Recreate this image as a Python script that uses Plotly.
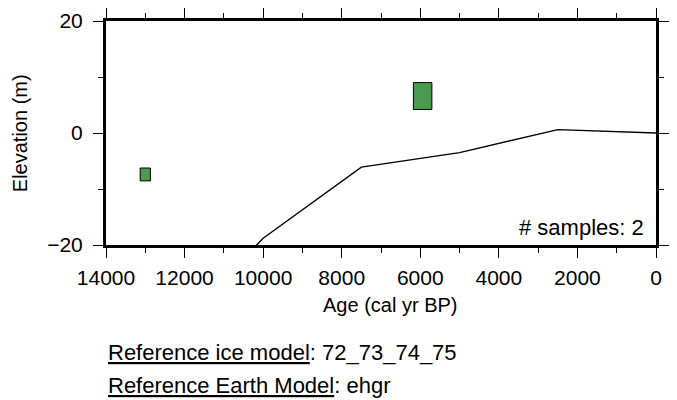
import plotly.graph_objects as go

# sea-level model curve
model_age = [11000, 10000, 7500, 5000, 2500, 0]
model_elev = [-26.0, -18.8, -6.1, -3.5, 0.6, 0.0]

# sample boxes (centre +/- half size)
sample_age = [13000, 5940]
sample_age_err = [130, 235]
sample_elev = [-7.4, 6.6]
sample_elev_err = [1.15, 2.4]

FONT = "Liberation Sans, Arial, Helvetica, sans-serif"

fig = go.Figure()

fig.add_trace(go.Scatter(
    x=model_age, y=model_elev, mode="lines",
    line=dict(color="black", width=1.4),
    showlegend=False, hoverinfo="skip",
))

# build rectangles for the samples
for a, da, e, de in zip(sample_age, sample_age_err, sample_elev, sample_elev_err):
    fig.add_trace(go.Scatter(
        x=[a - da, a + da, a + da, a - da, a - da],
        y=[e - de, e - de, e + de, e + de, e - de],
        mode="lines", fill="toself",
        fillcolor="#4b9a50",
        line=dict(color="black", width=1),
        showlegend=False,
    ))

axis_common = dict(
    showline=True, linewidth=3, linecolor="black",
    mirror="ticks", ticks="outside", ticklen=10, tickwidth=1, tickcolor="black",
    showgrid=False, zeroline=False, automargin=False,
    tickfont=dict(family=FONT, size=21, color="black"),
)

fig.update_xaxes(
    range=[14000, 0], tick0=0, dtick=2000, tickformat="d",
    minor=dict(dtick=1000, ticks="outside", ticklen=5, tickwidth=1, tickcolor="black"),
    ticklabelstandoff=2,
    **axis_common,
)
fig.update_yaxes(
    range=[-20, 20], tick0=0, dtick=20,
    minor=dict(dtick=10, ticks="outside", ticklen=5, tickwidth=1, tickcolor="black"),
    ticklabelstandoff=6,
    **axis_common,
)

# axis titles
fig.add_annotation(
    text="Age (cal yr BP)", xref="paper", yref="paper", x=0.516, y=-0.268,
    xanchor="center", yanchor="middle", showarrow=False,
    font=dict(family=FONT, size=20, color="black"),
)
fig.add_annotation(
    text="Elevation (m)", xref="paper", yref="paper", x=-0.156, y=0.5,
    xanchor="center", yanchor="middle", textangle=-90, showarrow=False,
    font=dict(family=FONT, size=20, color="black"),
)

fig.add_annotation(
    text="# samples: 2", xref="paper", yref="paper", x=0.982, y=0.08,
    xanchor="right", yanchor="middle", showarrow=False,
    font=dict(family=FONT, size=22, color="black"),
)
fig.add_annotation(
    text="<u>Reference ice model</u>: 72_73_74_75", xref="paper", yref="paper",
    x=0.0, y=-0.482, xanchor="left", yanchor="middle", showarrow=False,
    font=dict(family=FONT, size=22, color="black"),
)
fig.add_annotation(
    text="<u>Reference Earth Model</u>: ehgr", xref="paper", yref="paper",
    x=0.0, y=-0.629, xanchor="left", yanchor="middle", showarrow=False,
    font=dict(family=FONT, size=22, color="black"),
)

# page body adds an 8px offset, so the figure is sized to fit inside the window
fig.update_layout(
    width=669, height=392,
    margin=dict(l=98, r=21, t=13, b=155, autoexpand=False),
    plot_bgcolor="white", paper_bgcolor="white",
    font=dict(family=FONT, color="black"),
)

fig.write_html("out.html")
